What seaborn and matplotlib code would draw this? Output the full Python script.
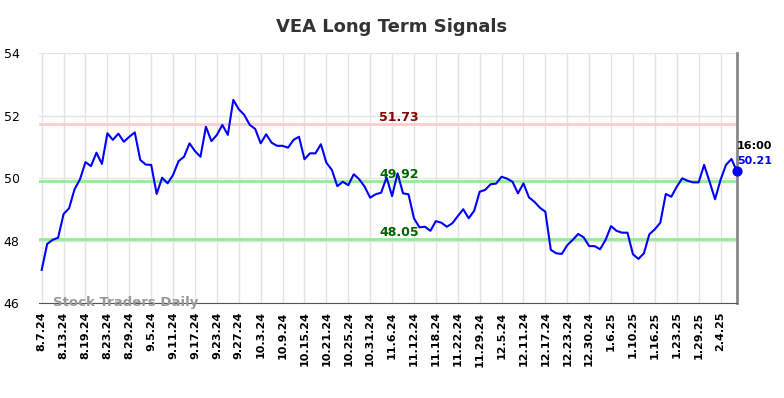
import numpy as np
import pandas as pd
import matplotlib
matplotlib.use("Agg")
import matplotlib.pyplot as plt
import seaborn as sns


# closing prices, one per trading day from 8.7.24 to 2.7.25
prices = [
    47.06, 47.89, 48.02, 48.09, 48.85, 49.03, 49.64, 49.96, 50.51, 50.38,
    50.81, 50.45, 51.43, 51.22, 51.42, 51.16, 51.32, 51.46, 50.58, 50.43,
    50.42, 49.49, 50.01, 49.83, 50.10, 50.54, 50.68, 51.11, 50.86, 50.68,
    51.64, 51.18, 51.38, 51.70, 51.38, 52.50, 52.20, 52.02, 51.70, 51.57,
    51.11, 51.40, 51.13, 51.03, 51.03, 50.97, 51.22, 51.32, 50.60, 50.79,
    50.79, 51.08, 50.49, 50.26, 49.74, 49.88, 49.77, 50.12, 49.96, 49.72,
    49.37, 49.48, 49.53, 50.02, 49.42, 50.15, 49.51, 49.48, 48.71, 48.42,
    48.44, 48.31, 48.62, 48.57, 48.44, 48.55, 48.78, 49.00, 48.71, 48.95,
    49.56, 49.62, 49.80, 49.82, 50.04, 49.98, 49.88, 49.51, 49.83, 49.38,
    49.24, 49.05, 48.92, 47.70, 47.59, 47.57, 47.85, 48.02, 48.21, 48.10,
    47.82, 47.82, 47.72, 48.02, 48.46, 48.31, 48.25, 48.25, 47.56, 47.41,
    47.59, 48.20, 48.36, 48.57, 49.49, 49.40, 49.72, 49.99, 49.91, 49.86,
    49.86, 50.42, 49.88, 49.32, 49.94, 50.42, 50.61, 50.21,
]

tick_labels = [
    "8.7.24", "8.13.24", "8.19.24", "8.23.24", "8.29.24", "9.5.24", "9.11.24",
    "9.17.24", "9.23.24", "9.27.24", "10.3.24", "10.9.24", "10.15.24",
    "10.21.24", "10.25.24", "10.31.24", "11.6.24", "11.12.24", "11.18.24",
    "11.22.24", "11.29.24", "12.5.24", "12.11.24", "12.17.24", "12.23.24",
    "12.30.24", "1.6.25", "1.10.25", "1.16.25", "1.23.25", "1.29.25", "2.4.25",
]

resistance = 51.73
supports = [49.92, 48.05]
last_time = "16:00"

df = pd.DataFrame({"idx": np.arange(len(prices)), "price": prices})

fig = plt.figure(figsize=(7.84, 3.98), dpi=100)
ax = fig.add_axes([0.0497, 0.2387, 0.8903, 0.6281])

# signal lines
ax.axhline(resistance, color="#ffcccc", lw=2, zorder=1)
for s in supports:
    ax.axhline(s, color="#90ee90", lw=2, zorder=1)

sns.lineplot(data=df, x="idx", y="price", ax=ax, color="blue", lw=1.5, zorder=3)
ax.scatter([df.idx.iloc[-1]], [df.price.iloc[-1]], color="blue", s=40,
           zorder=4, clip_on=False)

mid = 65.3
ax.text(mid, resistance, f"{resistance:.2f}", color="#8b0000", fontsize=9,
        fontweight="bold", ha="center", va="bottom")
for s in supports:
    ax.text(mid, s, f"{s:.2f}", color="#006400", fontsize=9,
            fontweight="bold", ha="center", va="bottom")

last_i = len(prices) - 1
ax.annotate(last_time, (last_i, prices[-1]), xytext=(0, 18), textcoords="offset points",
            fontsize=8, fontweight="bold", color="black", ha="left", va="center")
ax.annotate(f"{prices[-1]:.2f}", (last_i, prices[-1]), xytext=(0, 7.5), textcoords="offset points",
            fontsize=8, fontweight="bold", color="blue", ha="left", va="center")

ax.set_xlim(-0.5, last_i)
ax.set_ylim(46, 54)
ax.set_yticks([46, 48, 50, 52, 54])
ax.set_xticks(np.arange(0, len(tick_labels) * 4, 4))
ax.set_xticklabels(tick_labels, rotation=90, fontsize=8, fontweight="bold")
ax.tick_params(axis="y", labelsize=9, length=0, pad=14)
ax.tick_params(axis="x", length=0, pad=6)
ax.grid(True, color="#e4e4e4", lw=1)
ax.set_axisbelow(True)
ax.set_xlabel("")
ax.set_ylabel("")

for side in ["top", "left"]:
    ax.spines[side].set_visible(False)
ax.spines["bottom"].set_color("#555555")
ax.spines["right"].set_color("#888888")
ax.spines["right"].set_linewidth(2)

ax.text(2, 46.0, "Stock Traders Daily", color="#999999", fontsize=9.5,
        fontweight="bold", ha="left", va="center", zorder=5)

fig.suptitle("VEA Long Term Signals", fontsize=13, fontweight="bold",
             color="#333333", y=0.955)

fig.savefig("out.png", dpi=100)
